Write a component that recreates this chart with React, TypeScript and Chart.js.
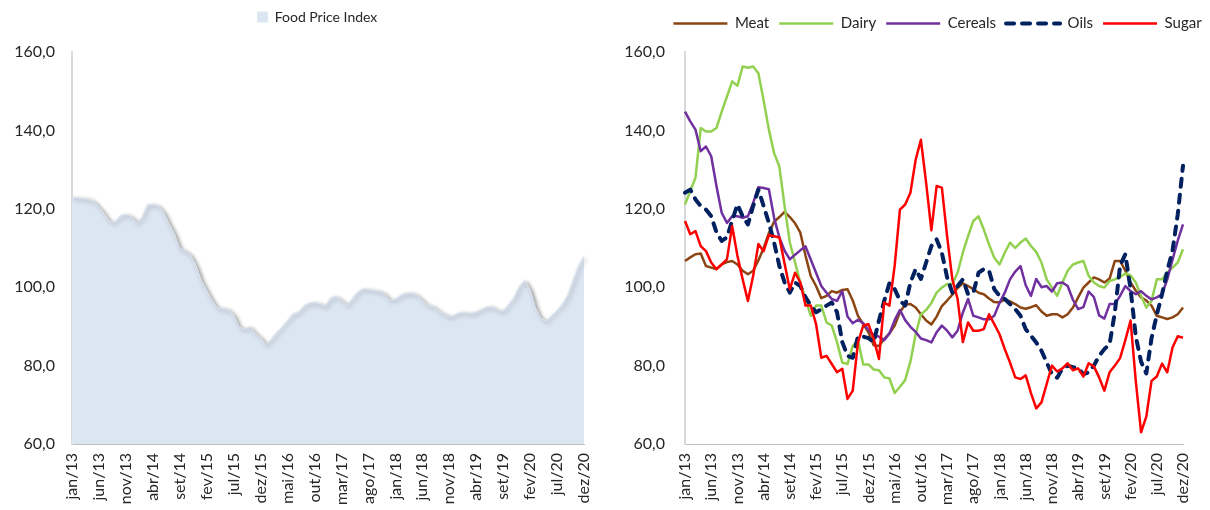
import React, { useEffect, useRef } from 'react';
import { Chart, registerables } from 'chart.js';

Chart.register(...registerables);

// ---------- data ----------
const MONTHS = ['jan', 'fev', 'mar', 'abr', 'mai', 'jun', 'jul', 'ago', 'set', 'out', 'nov', 'dez'];
const YEARS = ['13', '14', '15', '16', '17', '18', '19', '20'];
const categories: string[] = YEARS.flatMap((y) => MONTHS.map((m) => `${m}/${y}`));
const TICK_EVERY = 5;

const foodPriceIndex = [
  123.0, 122.8, 122.7, 122.5, 122.0, 120.5, 118.8, 116.7, 116.7, 118.3, 118.6, 118.1,
  116.4, 117.8, 121.1, 121.1, 120.8, 119.2, 116.3, 113.7, 109.9, 109.3, 108.2, 105.6,
  101.8, 99.2, 96.7, 94.7, 94.6, 94.3, 93.0, 90.0, 89.3, 90.0, 88.3, 87.2,
  85.3, 86.8, 88.5, 89.9, 91.5, 93.2, 93.6, 95.2, 96.0, 96.1, 95.8, 95.2,
  97.3, 97.7, 96.7, 95.4, 97.1, 98.8, 99.6, 99.4, 99.2, 99.0, 98.4, 96.7,
  97.0, 98.0, 98.5, 98.5, 98.1, 96.7, 95.4, 95.2, 94.0, 93.2, 92.5, 92.9,
  93.6, 93.5, 93.3, 93.7, 94.4, 95.0, 95.0, 94.1, 93.9, 95.6, 97.3, 100.2,
  101.8, 99.4, 94.9, 92.1, 91.4, 92.8, 94.1, 95.7, 98.0, 101.8, 105.5, 107.9,
];

const meat = [
  106.7, 107.6, 108.4, 108.6, 105.4, 105.0, 104.6, 105.8, 106.4, 106.7, 105.8, 104.2,
  103.3, 104.2, 106.8, 110.0, 113.8, 116.7, 117.9, 119.2, 117.9, 116.3, 113.9, 108.0,
  102.8, 100.3, 97.2, 97.8, 99.0, 98.6, 99.3, 99.5, 96.6, 92.7, 90.6, 88.5,
  85.2, 85.0, 86.8, 88.2, 90.2, 93.6, 95.6, 95.7, 94.8, 93.1, 91.5, 90.5,
  92.5, 95.2, 96.6, 98.1, 99.8, 101.0, 100.3, 99.5, 98.6, 98.2, 97.1, 96.2,
  96.1, 96.9, 96.4, 95.7, 94.8, 94.5, 94.9, 95.4, 93.8, 92.7, 93.1, 93.1,
  92.3, 93.1, 94.8, 97.4, 99.9, 101.2, 102.5, 102.0, 101.2, 102.2, 106.7, 106.7,
  104.2, 101.2, 99.1, 97.4, 96.6, 95.3, 92.7, 92.3, 91.9, 92.3, 93.1, 94.8,
];

const dairy = [
  121.1, 124.5, 127.9, 140.6, 139.7, 139.7, 140.6, 144.8, 148.6, 152.5, 151.4, 156.3,
  156.0, 156.3, 154.6, 147.6, 140.2, 134.2, 130.8, 120.7, 111.4, 106.3, 101.2, 97.0,
  92.7, 95.3, 95.3, 91.0, 90.2, 86.0, 80.8, 80.4, 85.0, 86.5, 80.3, 80.3,
  79.0, 78.8, 77.0, 76.7, 73.0, 74.6, 76.3, 81.0, 88.0, 93.0, 94.2, 96.0,
  98.6, 99.9, 100.8, 100.8, 103.7, 108.8, 113.0, 116.9, 118.1, 114.7, 110.9, 107.5,
  105.8, 108.8, 111.4, 110.0, 111.4, 112.4, 110.5, 109.0, 106.3, 102.0, 99.9, 97.8,
  101.2, 104.2, 105.8, 106.3, 106.7, 102.9, 101.2, 100.3, 99.9, 101.6, 102.0, 102.6,
  103.5, 103.0, 101.2, 97.8, 94.8, 96.5, 102.0, 102.0, 103.7, 105.0, 106.3, 109.7,
];

const cereals = [
  144.8, 142.3, 140.2, 134.7, 135.9, 133.4, 125.8, 119.0, 116.4, 118.1, 118.1, 117.7,
  118.1, 121.5, 125.5, 125.3, 125.0, 117.7, 112.7, 109.3, 107.1, 108.3, 109.4, 110.4,
  107.0, 103.7, 100.3, 98.6, 97.0, 96.5, 99.0, 92.5, 90.8, 91.7, 90.8, 89.1,
  87.8, 87.4, 86.5, 88.2, 91.6, 94.2, 91.6, 89.9, 88.6, 86.9, 86.5, 85.9,
  88.5, 90.2, 88.9, 87.2, 88.9, 93.5, 97.0, 92.7, 92.3, 91.8, 91.8, 92.7,
  96.0, 98.6, 102.0, 104.0, 105.4, 100.5, 97.8, 102.1, 100.0, 100.3, 98.9, 101.0,
  101.2, 100.3, 96.8, 94.4, 94.9, 98.9, 97.5, 92.8, 92.0, 95.7, 95.7, 97.8,
  100.3, 99.0, 98.2, 99.0, 97.8, 96.9, 97.4, 98.2, 102.0, 107.0, 111.9, 116.0,
];

const oils = [
  124.1, 124.9, 122.4, 120.7, 119.8, 118.1, 114.0, 111.8, 112.7, 117.0, 121.1, 118.1,
  116.0, 120.7, 124.9, 120.7, 116.4, 111.4, 105.4, 101.2, 98.6, 101.2, 100.3, 97.4,
  95.3, 93.6, 94.4, 95.3, 96.1, 93.6, 86.0, 82.5, 82.0, 87.4, 87.4, 87.0,
  86.0, 91.5, 96.5, 101.0, 99.5, 96.6, 95.3, 101.2, 104.6, 102.1, 106.3, 110.5,
  112.2, 108.8, 102.5, 98.6, 100.3, 102.0, 98.2, 98.6, 103.7, 104.6, 104.2, 99.5,
  97.8, 97.0, 95.7, 94.4, 92.7, 89.3, 87.6, 85.9, 83.8, 80.8, 77.8, 76.9,
  79.3, 80.0, 79.6, 79.3, 77.8, 78.3, 80.0, 82.5, 84.2, 85.5, 93.6, 105.5,
  108.4, 99.5, 87.4, 81.0, 78.0, 87.0, 93.0, 98.2, 104.2, 109.3, 118.6, 131.0,
];

const sugar = [
  116.9, 113.5, 114.3, 110.5, 109.2, 106.3, 104.6, 105.8, 107.1, 115.6, 108.0, 102.0,
  96.5, 102.9, 111.0, 109.2, 113.3, 113.0, 112.7, 106.0, 99.5, 103.7, 101.2, 95.3,
  95.3, 90.6, 82.0, 82.5, 80.4, 78.3, 79.2, 71.5, 73.6, 85.9, 90.2, 90.6,
  86.8, 81.7, 96.1, 95.3, 105.5, 119.8, 121.1, 124.1, 132.5, 137.6, 126.6, 114.5,
  125.8, 125.4, 113.0, 102.0, 97.0, 86.0, 91.0, 88.9, 88.9, 89.3, 93.1, 90.6,
  88.0, 84.2, 80.8, 77.0, 76.6, 77.5, 73.0, 69.1, 70.6, 75.3, 80.0, 78.5,
  79.3, 80.6, 78.8, 79.3, 77.2, 80.6, 79.8, 77.0, 73.6, 78.3, 80.0, 81.9,
  86.5, 91.5, 76.0, 63.0, 67.0, 76.1, 77.2, 80.5, 78.3, 84.6, 87.5, 87.1,
];

const Y_MIN = 60;
const Y_MAX = 160;
const Y_STEP = 20;

// ---------- styles ----------
const FONT = 'Lato, "Open Sans", "DejaVu Sans", sans-serif';
const TEXT = '#262626';
const fmt = (v: number) => Number(v).toFixed(1).replace('.', ',');

const xScale = (height: number) => ({
  type: 'category' as const,
  grid: { display: false, drawTicks: false },
  border: { display: true, color: '#BFBFBF', width: 1 },
  ticks: {
    autoSkip: false,
    maxRotation: 90,
    minRotation: 90,
    padding: 9,
    color: TEXT,
    font: { family: FONT, size: 16 },
    callback: (_v: any, i: number) => (i % TICK_EVERY === 0 ? categories[i] : ''),
  },
  afterFit: (s: any) => {
    s.height = height;
  },
});

const yScale = (width: number, pad: number) => ({
  type: 'linear' as const,
  min: Y_MIN,
  max: Y_MAX,
  grid: { display: false, drawTicks: false },
  border: { display: true, color: '#D9D9D9', width: 2 },
  ticks: {
    stepSize: Y_STEP,
    padding: pad,
    color: TEXT,
    font: { family: FONT, size: 16 },
    callback: (v: any) => fmt(v),
  },
  afterFit: (s: any) => {
    s.width = width;
  },
});

// invisible spacer on the right of the plot (keeps the legend centred where the reference has it)
const spacerScale = (width: number) => ({
  type: 'linear' as const,
  position: 'right' as const,
  display: true,
  grid: { display: false, drawTicks: false },
  border: { display: false },
  ticks: { display: false },
  afterFit: (s: any) => {
    s.width = width;
  },
});

const areaShadow = {
  id: 'areaShadow',
  beforeDatasetsDraw(chart: any) {
    const ctx = chart.ctx;
    ctx.save();
    ctx.shadowColor = 'rgba(0,0,0,0.45)';
    ctx.shadowBlur = 4;
    ctx.shadowOffsetX = 2;
    ctx.shadowOffsetY = 2;
  },
  afterDatasetsDraw(chart: any) {
    chart.ctx.restore();
  },
};

const SERIES = [
  { label: 'Meat', data: meat, color: '#8B4513', width: 2.5, dash: [] as number[] },
  { label: 'Dairy', data: dairy, color: '#92D050', width: 2.5, dash: [] as number[] },
  { label: 'Cereals', data: cereals, color: '#7030A0', width: 2.5, dash: [] as number[] },
  { label: 'Oils', data: oils, color: '#002060', width: 4, dash: [8, 8] },
  { label: 'Sugar', data: sugar, color: '#FF0000', width: 2.5, dash: [] as number[] },
];

const LEFT_W = 635;
const RIGHT_X = 590;
const RIGHT_W = 675;
const H = 510;

export default function App() {
  const leftRef = useRef<HTMLCanvasElement>(null);
  const rightRef = useRef<HTMLCanvasElement>(null);

  useEffect(() => {
    const left = new Chart(leftRef.current as HTMLCanvasElement, {
      type: 'line',
      data: {
        labels: categories,
        datasets: [
          {
            label: 'Food Price Index',
            data: foodPriceIndex,
            fill: 'start',
            backgroundColor: '#DCE6F2',
            borderColor: '#DCE6F2',
            borderWidth: 1,
            pointRadius: 0,
            tension: 0,
            clip: false,
            yAxisID: 'y',
          } as any,
        ],
      },
      options: {
        responsive: false,
        animation: false,
        layout: { padding: { left: 0, right: 0, top: 0, bottom: 0 } },
        plugins: {
          legend: {
            display: true,
            position: 'top',
            labels: {
              boxWidth: 10,
              boxHeight: 10,
              padding: 10,
              color: TEXT,
              font: { family: FONT, size: 14 },
            },
          },
          title: {
            display: true,
            text: '',
            weight: 500,
            padding: { top: 0, bottom: 17 },
            font: { size: 1, lineHeight: 1 },
          } as any,
          tooltip: { enabled: false },
        },
        scales: {
          x: xScale(66) as any,
          y: yScale(72, 17) as any,
          yR: spacerScale(LEFT_W - 584) as any,
        },
      },
      plugins: [areaShadow],
    });

    const right = new Chart(rightRef.current as HTMLCanvasElement, {
      type: 'line',
      data: {
        labels: categories,
        datasets: SERIES.map((s, i) => ({
          label: s.label,
          data: s.data,
          borderColor: s.color,
          backgroundColor: s.color,
          borderWidth: s.width,
          borderDash: s.dash,
          borderCapStyle: s.dash.length ? 'round' : 'butt',
          borderJoinStyle: 'round',
          pointRadius: 0,
          tension: 0,
          fill: false,
          yAxisID: 'y',
          order: SERIES.length - i,
        })) as any,
      },
      options: {
        responsive: false,
        animation: false,
        layout: { padding: { left: 20, right: 0, top: 6, bottom: 0 } },
        plugins: {
          legend: {
            display: true,
            position: 'top',
            labels: {
              usePointStyle: true,
              pointStyleWidth: 54,
              padding: 10,
              color: TEXT,
              font: { family: FONT, size: 15 },
              sort: (a: any, b: any) => a.datasetIndex - b.datasetIndex,
              generateLabels: (chart: any) => {
                const items = (Chart.defaults.plugins.legend.labels as any).generateLabels(chart);
                return items.map((it: any) => {
                  const ds = chart.data.datasets[it.datasetIndex];
                  return {
                    ...it,
                    pointStyle: 'line',
                    rotation: 0,
                    lineWidth: ds.borderWidth,
                    lineDash: ds.borderDash || [],
                    lineCap: ds.borderCapStyle,
                    strokeStyle: ds.borderColor,
                    fillStyle: ds.borderColor,
                  };
                });
              },
            },
          } as any,
          title: {
            display: true,
            text: '',
            weight: 500,
            padding: { top: 0, bottom: 10 },
            font: { size: 1, lineHeight: 1 },
          } as any,
          tooltip: { enabled: false },
        },
        scales: {
          x: xScale(66) as any,
          y: yScale(75, 20) as any,
          yR: spacerScale(RIGHT_W - (1183 - RIGHT_X)) as any,
        },
      },
    });

    return () => {
      left.destroy();
      right.destroy();
    };
  }, []);

  return (
    <div
      style={{
        position: 'fixed',
        left: 0,
        top: 0,
        width: 1210,
        height: H,
        overflow: 'hidden',
        background: '#ffffff',
      }}
    >
      <canvas
        ref={leftRef}
        width={LEFT_W}
        height={H}
        style={{ position: 'absolute', left: 0, top: 0, width: LEFT_W, height: H }}
      />
      <canvas
        ref={rightRef}
        width={RIGHT_W}
        height={H}
        style={{ position: 'absolute', left: RIGHT_X, top: 0, width: RIGHT_W, height: H }}
      />
    </div>
  );
}
